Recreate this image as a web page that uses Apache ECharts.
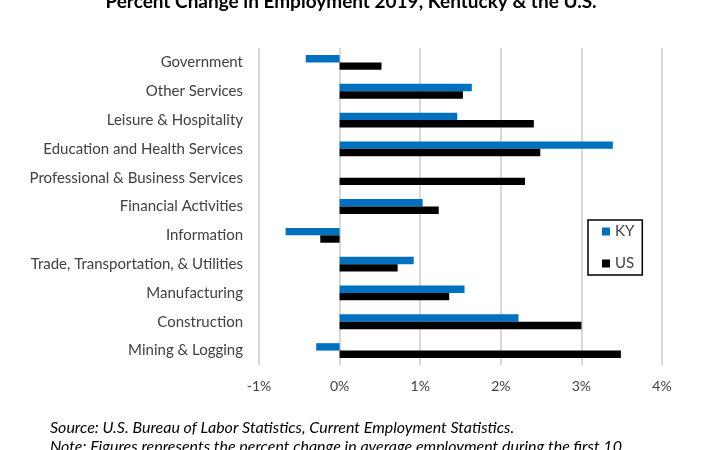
<!DOCTYPE html>
<html><head><meta charset="utf-8">
<script src="https://cdn.jsdelivr.net/npm/echarts@6/dist/echarts.min.js"></script>
<style>html,body{margin:0;padding:0;background:#fff}#c{width:709px;height:450px}</style>
</head><body><div id="c"></div>
<script>
const categories = ["Government","Other Services","Leisure & Hospitality","Education and Health Services","Professional & Business Services","Financial Activities","Information","Trade, Transportation, & Utilities","Manufacturing","Construction","Mining & Logging"];
const kyValues = [-0.42, 1.64, 1.46, 3.39, 0, 1.03, -0.67, 0.92, 1.55, 2.22, -0.29];
const usValues = [0.52, 1.53, 2.41, 2.49, 2.30, 1.23, -0.24, 0.72, 1.36, 3.00, 3.49];
const xTicks = {min: -1, max: 4, interval: 1};
const titleText = "Percent Change in Employment 2019, Kentucky & the U.S.";
const sourceText = "Source: U.S. Bureau of Labor Statistics, Current Employment Statistics.";
const noteText = "Note: Figures represents the percent change in average employment during the first 10";

const chart = echarts.init(document.getElementById('c'));
chart.setOption({
  animation: false,
  title: {text: titleText, left: 346, textAlign: 'center', top: -13,
    textStyle: {fontFamily: 'Lato', fontWeight: 'bold', fontSize: 19, color: '#000'}},
  grid: {left: 259, right: 47, top: 48, bottom: 85, containLabel: false},
  legend: {orient: 'vertical', left: 588, top: 220, icon: 'rect', itemWidth: 8, itemHeight: 8,
    itemGap: 17, padding: [4, 8, 4, 14], borderColor: '#000', borderWidth: 1.5,
    textStyle: {fontFamily: 'Lato', fontSize: 15, color: '#404040'},
    data: ['KY', 'US']},
  xAxis: {type: 'value', min: xTicks.min, max: xTicks.max, interval: xTicks.interval,
    axisLine: {show: false}, axisTick: {show: false},
    splitLine: {lineStyle: {color: '#d9d9d9', width: 2}},
    axisLabel: {formatter: v => v + '%', fontFamily: 'Lato', fontSize: 14, color: '#404040', margin: 14}},
  yAxis: {type: 'category', data: categories, inverse: true,
    axisLine: {show: false, onZero: false}, axisTick: {show: false},
    axisLabel: {fontFamily: 'Lato', fontSize: 15, color: '#404040', margin: 16}},
  series: [
    {name: 'KY', type: 'bar', data: kyValues, barWidth: 7.4, barGap: '0%', itemStyle: {color: '#0070C0'}},
    {name: 'US', type: 'bar', data: usValues, barWidth: 7.4, barGap: '0%', itemStyle: {color: '#000'}}
  ],
  graphic: [
    {type: 'text', left: 50, top: 420, style: {text: sourceText, fontFamily: 'Lato', fontStyle: 'italic', fontSize: 16, fill: '#000'}},
    {type: 'text', left: 50, top: 439, style: {text: noteText, fontFamily: 'Lato', fontStyle: 'italic', fontSize: 16, fill: '#000'}}
  ]
});
</script></body></html>
